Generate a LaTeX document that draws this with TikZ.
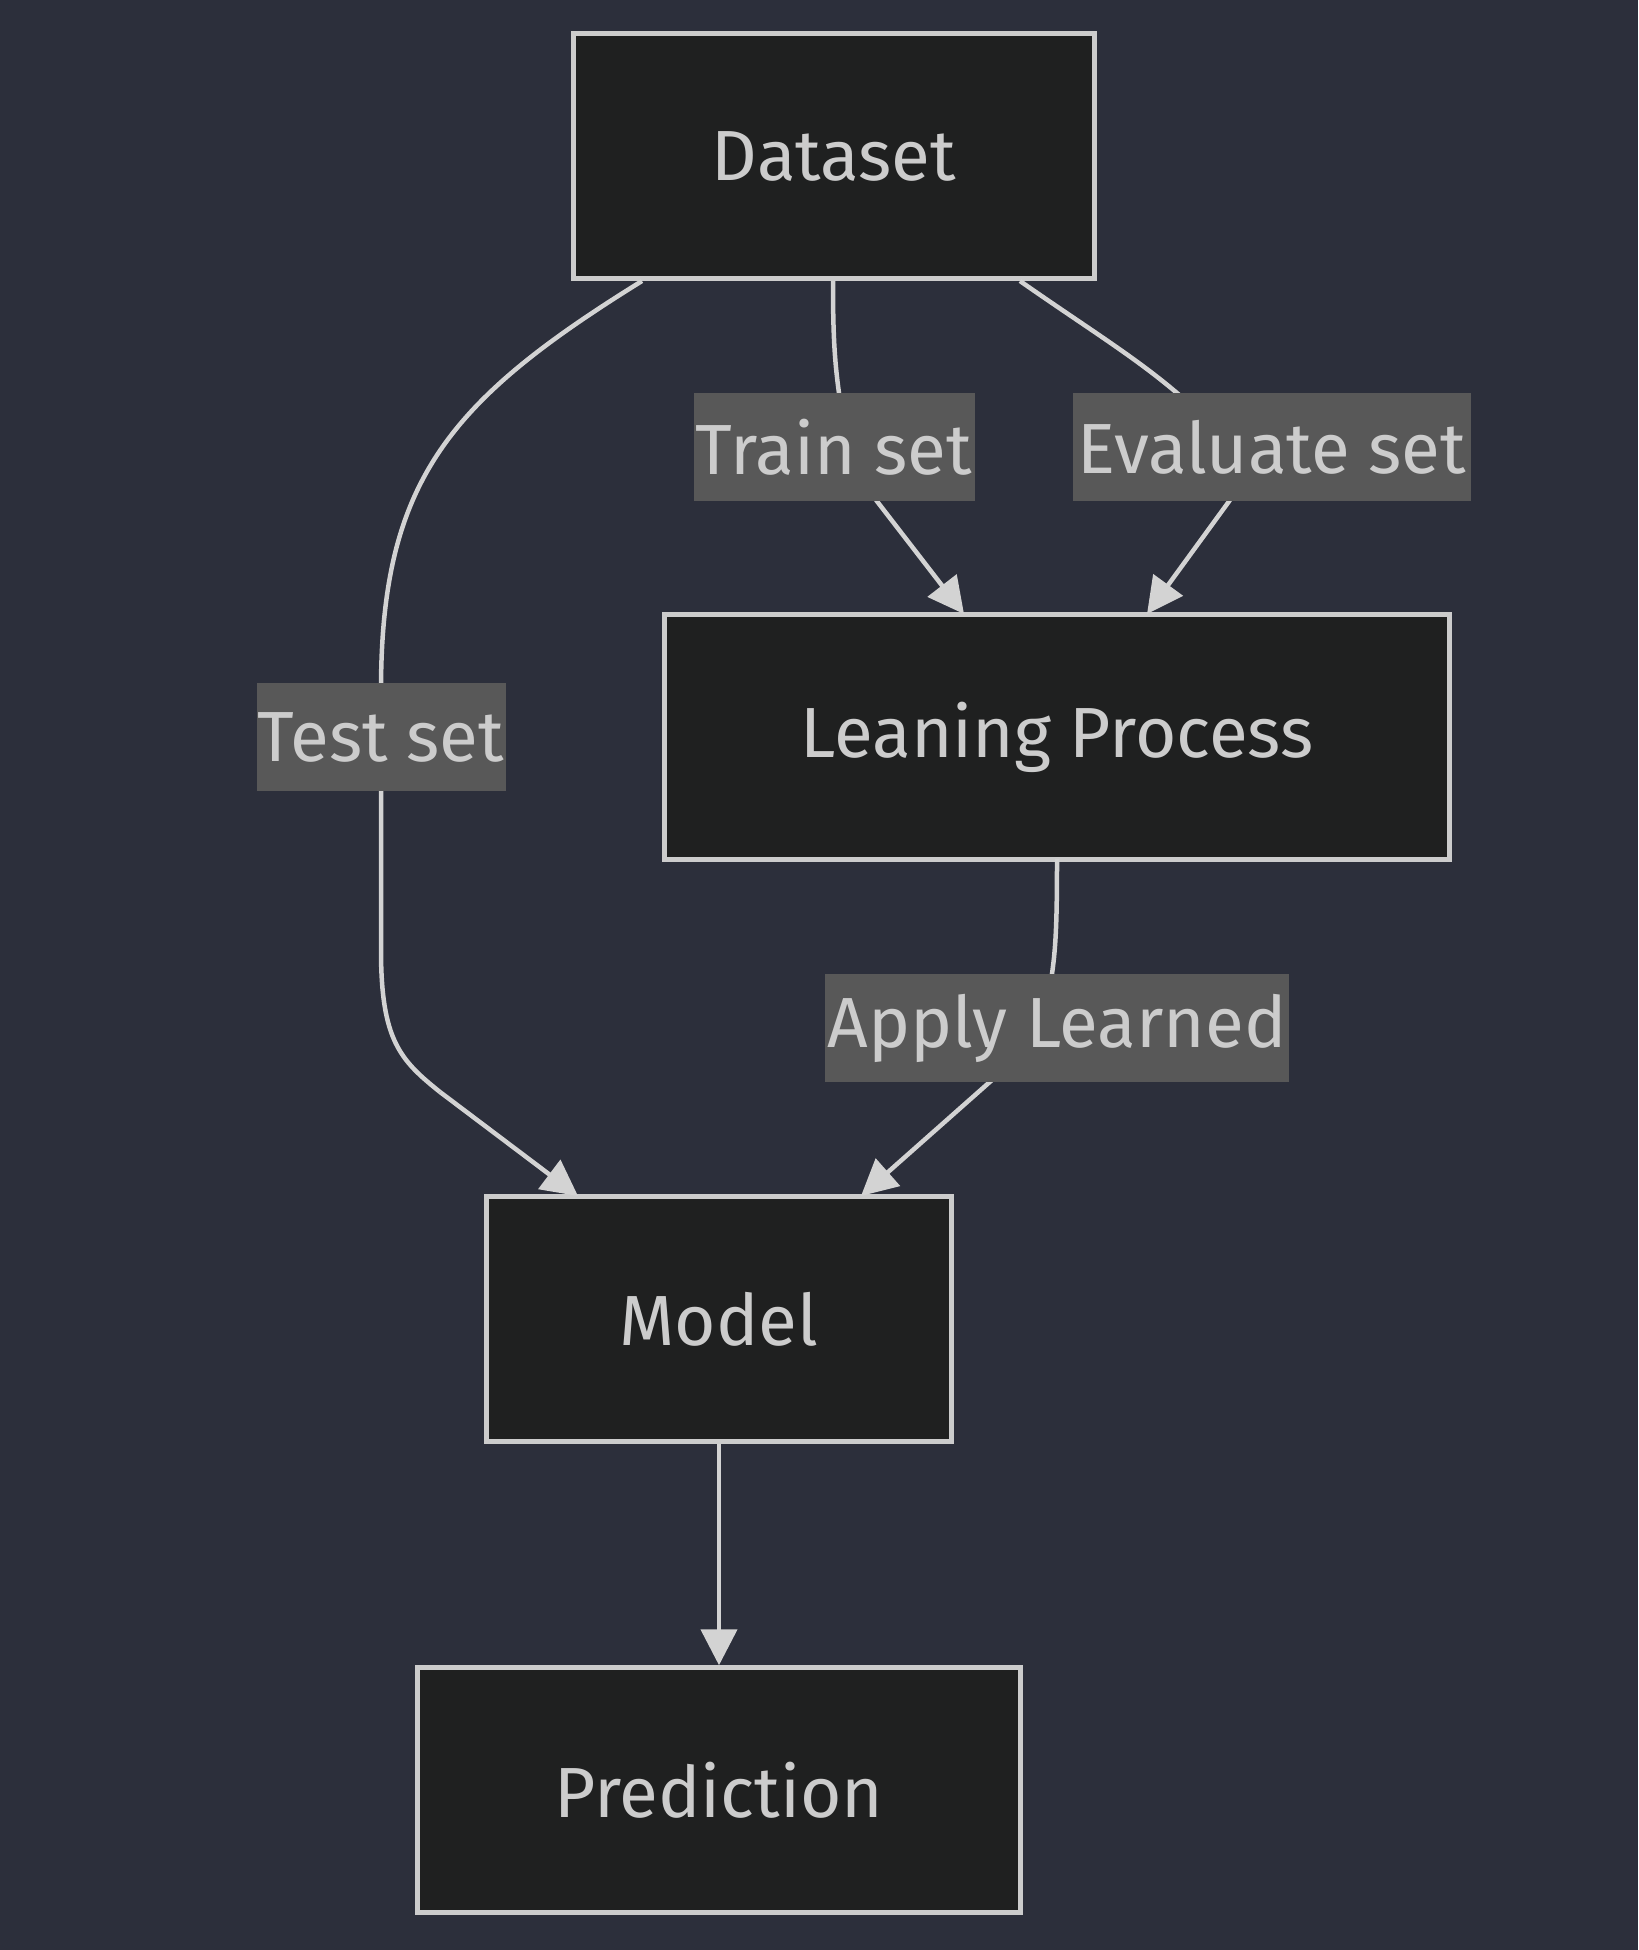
\documentclass[tikz,border=0pt]{standalone}
\usepackage{fontspec}
\setmainfont{Fira Sans}
\usetikzlibrary{arrows.meta}
\definecolor{bg}{RGB}{44,47,59}
\definecolor{nodefill}{RGB}{31,32,32}
\definecolor{nodeline}{RGB}{204,204,204}
\definecolor{txt}{RGB}{204,204,204}
\definecolor{edgecol}{RGB}{211,211,211}
\definecolor{lblfill}{RGB}{88,88,88}
\tikzset{
  box/.style={draw=nodeline, line width=4.5pt, fill=nodefill, text=txt, inner sep=0pt,
    minimum height=245pt, font=\fontsize{71}{80}\selectfont},
  lbl/.style={fill=lblfill, text=txt, inner xsep=0pt, inner ysep=0pt, minimum height=108pt,
    font=\fontsize{71}{80}\selectfont},
  conn/.style={draw=edgecol, line width=4.5pt},
  arr/.style={conn, -{Triangle[length=36pt,width=36pt]}}
}
\begin{document}
\begin{tikzpicture}[x=1pt,y=-1pt]
\fill[bg] (0,0) rectangle (1638,1950);
\useasboundingbox (0,0) rectangle (1638,1950);
% nodes
\node[box, minimum width=521pt] (ds) at (834,156) {Dataset};
\node[box, minimum width=785pt] (lp) at (1057,737) {Leaning Process};
\node[box, minimum width=465pt] (md) at (719,1319) {Model};
\node[box, minimum width=603pt] (pr) at (719,1790) {Prediction};
% connectors
\coordinate (t1) at (642,281);
\draw[conn] (t1) .. controls (450,400) and (381,480) .. (381,690) -- (381,950)
  .. controls (381,1040) and (400,1060) .. (440,1092);
\draw[arr] (440,1092) -- (578,1196);
\draw[conn] (833,281) .. controls (833,330) and (834,360) .. (840,400);
\draw[arr] (876,500) -- (964,614);
\draw[conn] (1020,281) .. controls (1090,330) and (1140,360) .. (1185,400);
\draw[arr] (1230,500) -- (1147,614);
\draw[conn] (1057,859) .. controls (1057,920) and (1056,950) .. (1051,980);
\draw[arr] (992,1080) -- (861,1196);
\draw[arr] (md) -- (pr);
% labels
\node[lbl, minimum width=281pt] (l1) at (834,447) {Train set};
\node[lbl, minimum width=398pt] (l2) at (1272,447) {Evaluate set};
\node[lbl, minimum width=249pt] (l3) at (381,737) {Test set};
\node[lbl, minimum width=464pt] (l4) at (1057,1028) {Apply Learned};
\end{tikzpicture}
\end{document}
